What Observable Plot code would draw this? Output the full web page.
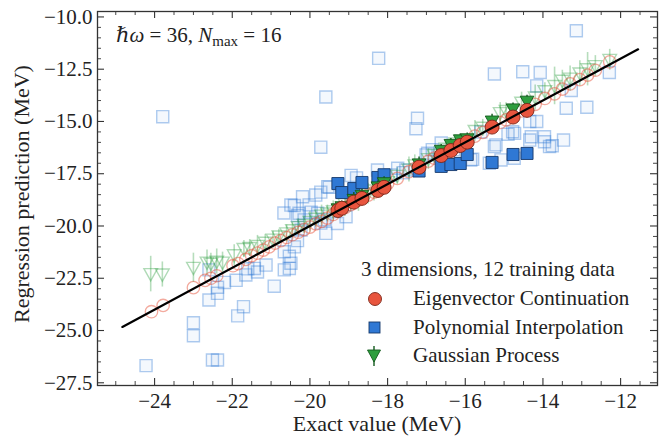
<!DOCTYPE html>
<html><head><meta charset="utf-8">
<script src="https://cdn.jsdelivr.net/npm/d3@7"></script>
<script src="https://cdn.jsdelivr.net/npm/@observablehq/plot@0.6"></script>
<style>body{margin:0;background:#fff}</style>
</head><body><div id="chart"></div>
<script>
// ---- tick labels ----
const xTicks = [-24, -22, -20, -18, -16, -14, -12];
const yTicks = [-27.5, -25, -22.5, -20, -17.5, -15, -12.5, -10];
const xMinor = d3.range(-25, -11, 0.5).filter(v => !xTicks.includes(v));
const yMinor = d3.range(-27.5, -9.6, 0.5).filter(v => !yTicks.includes(v));

// ---- diagonal reference line ----
const diagX = [-24.83, -11.55];

// ---- highlighted (filled) points ----
const trainExact = [-19.28, -19.18, -18.87, -18.66, -18.25, -18.09, -17.19, -16.62, -16.37, -16.13, -15.95, -15.31, -14.77, -14.41];
const ecTrainPred = [-19.26, -19.15, -18.86, -18.68, -18.30, -18.15, -17.19, -16.63, -16.39, -16.15, -15.99, -15.27, -14.79, -14.47];
const piTrainPred = [-17.97, -18.40, -18.21, -17.92, -17.68, -17.55, -17.37, -17.15, -17.06, -17.01, -16.58, -16.96, -16.58, -16.53];
const gpTrainPred = [-19.20, -19.10, -18.75, -18.55, -18.15, -17.95, -17.05, -16.40, -16.12, -15.90, -15.85, -15.00, -14.42, -14.05];
const gpTrainErr  = [0.30, 0.30, 0.35, 0.30, 0.30, 0.30, 0.35, 0.30, 0.30, 0.30, 0.30, 0.35, 0.30, 0.30];

// ---- test (faint) points ----
const ecTestExact = [-24.08, -23.78, -23.00, -22.70, -22.55, -22.40, -21.98, -21.85, -21.65, -21.50, -21.35, -21.20, -21.05, -20.90, -20.75, -20.60, -20.45, -20.30, -20.15, -20.00, -19.85, -19.70, -19.55, -19.40, -19.10, -18.95, -18.75, -18.50, -18.35, -18.00, -17.75, -17.45, -17.30, -16.95, -16.80, -16.50, -16.25, -15.75, -15.55, -15.10, -14.95, -14.55, -14.20, -13.95, -13.70, -13.50, -13.30, -13.05, -12.85, -12.65, -12.28];
const ecTestPred  = [-24.10, -23.80, -22.95, -22.60, -22.50, -22.38, -21.90, -21.80, -21.60, -21.42, -21.30, -21.15, -21.00, -20.82, -20.70, -20.55, -20.42, -20.30, -20.17, -20.05, -19.90, -19.78, -19.62, -19.45, -19.12, -18.98, -18.75, -18.52, -18.38, -17.98, -17.72, -17.40, -17.25, -16.90, -16.75, -16.45, -16.22, -15.70, -15.52, -15.05, -14.92, -14.50, -14.18, -13.90, -13.68, -13.45, -13.20, -13.00, -12.78, -12.55, -12.15];

const piTestExact = [-24.22, -23.79, -23.00, -23.00, -22.51, -22.38, -22.60, -22.38, -21.86, -21.71, -20.92, -22.60, -22.38, -21.65, -21.60, -21.43, -21.35, -21.13, -20.66, -20.53, -20.49, -20.66, -20.53, -20.40, -20.32, -20.23, -20.15, -20.28, -20.32, -19.97, -19.80, -19.63, -19.72, -19.59, -19.29, -19.07, -20.02, -20.19, -19.85, -19.54, -20.40, -19.72, -19.50, -20.49, -20.67, -18.94, -18.80, -18.26, -17.74, -17.92, -17.53, -17.01, -16.97, -16.62, -19.72, -19.59, -18.23, -17.23, -17.27, -15.81, -15.86, -15.38, -15.25, -15.21, -15.08, -14.74, -14.90, -14.73, -14.78, -14.34, -14.30, -13.96, -13.96, -13.83, -13.76, -13.47, -14.34, -14.16, -14.16, -13.27, -13.40, -12.87, -15.25, -14.52, -14.07, -12.29, -13.14, -17.60, -16.85, -16.30, -15.60, -21.90, -22.20];
const piTestPred  = [-26.68, -14.77, -24.63, -25.25, -26.41, -26.41, -23.54, -23.22, -24.30, -23.86, -22.88, -22.10, -22.93, -22.34, -22.05, -22.03, -22.20, -21.87, -22.10, -22.03, -21.78, -21.23, -21.45, -21.00, -20.70, -20.19, -19.71, -19.39, -19.50, -19.34, -19.39, -19.70, -19.86, -20.35, -19.88, -19.56, -18.99, -18.60, -18.52, -18.12, -19.02, -18.38, -18.15, -19.00, -19.38, -17.58, -17.70, -17.32, -17.24, -17.56, -17.32, -16.60, -16.52, -16.03, -16.23, -13.83, -11.98, -14.85, -15.35, -16.81, -16.84, -17.00, -16.20, -16.12, -16.84, -16.76, -15.61, -15.57, -15.49, -15.89, -15.73, -15.73, -15.97, -16.20, -16.16, -15.89, -15.00, -15.00, -13.30, -13.52, -14.37, -14.32, -12.73, -12.62, -12.66, -12.66, -10.66, -17.45, -16.35, -16.35, -15.50, -22.60, -22.70];

const gpTestExact = [-24.10, -23.80, -23.00, -22.65, -22.55, -22.40, -22.25, -21.95, -21.70, -21.55, -21.35, -21.15, -20.95, -20.80, -20.60, -20.45, -20.30, -20.15, -20.00, -19.85, -19.70, -19.55, -19.40, -19.10, -18.95, -18.75, -18.50, -18.35, -18.00, -17.75, -17.45, -17.30, -16.95, -16.80, -16.50, -16.25, -15.75, -15.55, -15.10, -14.95, -14.55, -14.20, -13.95, -13.70, -13.50, -13.30, -13.05, -12.85, -12.65, -12.28];
const gpTestPred  = [-22.30, -22.32, -22.00, -21.75, -21.80, -21.70, -21.75, -21.40, -21.10, -21.05, -20.95, -20.80, -20.65, -20.50, -20.35, -20.20, -20.05, -19.95, -19.80, -19.65, -19.50, -19.40, -19.30, -18.95, -18.85, -18.70, -18.45, -18.30, -17.90, -17.60, -17.30, -17.10, -16.80, -16.60, -16.30, -16.05, -15.45, -15.30, -14.60, -14.50, -14.10, -13.85, -13.55, -13.30, -13.05, -12.95, -12.70, -12.50, -12.35, -12.05];
const gpTestErr   = [0.85, 0.60, 0.70, 0.60, 0.50, 0.60, 0.50, 0.50, 0.40, 0.40, 0.50, 0.40, 0.40, 0.35, 0.40, 0.35, 0.40, 0.40, 0.50, 0.40, 0.50, 0.40, 0.50, 0.60, 0.50, 0.60, 0.50, 0.50, 0.50, 0.40, 0.60, 0.50, 0.50, 0.40, 0.40, 0.40, 0.50, 0.40, 0.50, 0.40, 0.50, 0.60, 0.40, 0.90, 0.50, 0.60, 0.60, 0.80, 0.50, 0.50];

// ---- colours ----
const RED = "#e8553e", RED_EDGE = "#7a2618";
const BLUE = "#2f78d4", BLUE_EDGE = "#16396b";
const GREEN = "#2e9e3e", GREEN_EDGE = "#125a1c";
const AXIS = "#333";
const FONT = "'Liberation Serif', 'DejaVu Serif', serif";

// ---- tables ----
const pairs = (xs, ys, es) => xs.map((x, i) => ({x, y: ys[i], e: es ? es[i] : 0}));
const ecTrain = pairs(trainExact, ecTrainPred);
const piTrain = pairs(trainExact, piTrainPred);
const gpTrain = pairs(trainExact, gpTrainPred, gpTrainErr);
const ecTest = pairs(ecTestExact, ecTestPred);
const piTest = pairs(piTestExact, piTestPred);
const gpTest = pairs(gpTestExact, gpTestPred, gpTestErr);

const triDown = {
  draw(context, size) {
    const r = Math.sqrt(size / Math.PI);
    context.moveTo(-r, -r * 0.8);
    context.lineTo(r, -r * 0.8);
    context.lineTo(0, r);
    context.closePath();
  }
};

const W = 661, H = 438, mL = 97, mR = 4, mT = 11, mB = 53;
const fW = W - mL - mR, fH = H - mT - mB;

const plot = Plot.plot({
  width: W, height: H,
  marginLeft: mL, marginRight: mR, marginTop: mT, marginBottom: mB,
  x: {domain: [-25.47, -11.05]},
  y: {domain: [-27.63, -9.74]},
  style: {fontFamily: FONT, fontSize: "21px", background: "white", color: "#222", overflow: "visible"},
  marks: [
    // faint test predictions
    Plot.ruleX(gpTest, {x: "x", y1: d => d.y - d.e, y2: d => d.y + d.e, stroke: GREEN, strokeOpacity: 0.35, strokeWidth: 1.6}),
    Plot.dot(piTest, {x: "x", y: "y", symbol: "square", r: 6.8, stroke: BLUE, strokeOpacity: 0.38, strokeWidth: 1.4, fill: BLUE, fillOpacity: 0.05}),
    Plot.dot(gpTest, {x: "x", y: "y", symbol: triDown, r: 6.8, stroke: GREEN, strokeOpacity: 0.38, strokeWidth: 1.4, fill: "none"}),
    Plot.dot(ecTest, {x: "x", y: "y", r: 6.2, stroke: RED, strokeOpacity: 0.5, strokeWidth: 1.3, fill: "none"}),
    // highlighted predictions
    Plot.dot(piTrain, {x: "x", y: "y", symbol: "square", r: 6.8, fill: BLUE, stroke: BLUE_EDGE, strokeWidth: 0.9}),
    Plot.ruleX(gpTrain, {x: "x", y1: d => d.y - d.e, y2: d => d.y + d.e, stroke: GREEN_EDGE, strokeWidth: 1.4}),
    Plot.dot(gpTrain, {x: "x", y: "y", symbol: triDown, r: 6.8, fill: GREEN, stroke: GREEN_EDGE, strokeWidth: 0.9}),
    Plot.dot(ecTrain, {x: "x", y: "y", r: 7, fill: RED, stroke: RED_EDGE, strokeWidth: 0.9}),
    // y = x
    Plot.line(diagX, {x: d => d, y: d => d, stroke: "black", strokeWidth: 2.2}),
    // inward ticks
    Plot.tickX(xTicks, {x: d => d, insetTop: fH - 7, stroke: AXIS, strokeWidth: 1.1}),
    Plot.tickX(xTicks, {x: d => d, insetBottom: fH - 7, stroke: AXIS, strokeWidth: 1.1}),
    Plot.tickX(xMinor, {x: d => d, insetTop: fH - 4, stroke: AXIS, strokeWidth: 0.9}),
    Plot.tickX(xMinor, {x: d => d, insetBottom: fH - 4, stroke: AXIS, strokeWidth: 0.9}),
    Plot.tickY(yTicks, {y: d => d, insetRight: fW - 7, stroke: AXIS, strokeWidth: 1.1}),
    Plot.tickY(yTicks, {y: d => d, insetLeft: fW - 7, stroke: AXIS, strokeWidth: 1.1}),
    Plot.tickY(yMinor, {y: d => d, insetRight: fW - 4, stroke: AXIS, strokeWidth: 0.9}),
    Plot.tickY(yMinor, {y: d => d, insetLeft: fW - 4, stroke: AXIS, strokeWidth: 0.9}),
    Plot.frame({stroke: AXIS, strokeWidth: 1.3}),
    Plot.axisX({ticks: xTicks, tickSize: 0, tickPadding: 8, label: null, fontSize: 21, fill: "#222"}),
    Plot.axisY({ticks: yTicks, tickSize: 0, tickPadding: 5, label: null, fontSize: 21, fill: "#222", tickFormat: d3.format(".1f")})
  ]
});

document.getElementById("chart").appendChild(plot);

// ---- titles, annotation, legend ----
const svg = d3.select(plot);
const g = svg.append("g").attr("font-family", FONT).attr("fill", "#222").attr("text-anchor", "start");

g.append("text").attr("x", 377).attr("y", 431).attr("text-anchor", "middle").attr("font-size", 22)
  .text("Exact value (MeV)");
g.append("text").attr("transform", "translate(29,194) rotate(-90)").attr("text-anchor", "middle").attr("font-size", 22)
  .text("Regression prediction (MeV)");

const ann = g.append("text").attr("x", 116).attr("y", 42).attr("font-size", 21).attr("text-anchor", "start");
ann.append("tspan").attr("font-style", "italic").text("ℏω");
ann.append("tspan").text(" = 36, ");
ann.append("tspan").attr("font-style", "italic").text("N");
ann.append("tspan").attr("font-size", 15).attr("dy", 4).text("max");
ann.append("tspan").attr("dy", -4).text(" = 16");

g.append("text").attr("x", 361).attr("y", 276).attr("font-size", 21).attr("text-anchor", "start").text("3 dimensions, 12 training data");
const legendRows = [
  {label: "Eigenvector Continuation", y: 299},
  {label: "Polynomial Interpolation", y: 328},
  {label: "Gaussian Process", y: 356}
];
legendRows.forEach(r => g.append("text").attr("x", 413).attr("y", r.y + 6).attr("font-size", 21).attr("text-anchor", "start").text(r.label));
g.append("circle").attr("cx", 375).attr("cy", 299).attr("r", 6.5).attr("fill", RED).attr("stroke", RED_EDGE).attr("stroke-width", 0.9);
g.append("rect").attr("x", 369).attr("y", 322).attr("width", 11).attr("height", 11).attr("fill", BLUE).attr("stroke", BLUE_EDGE).attr("stroke-width", 0.9);
g.append("line").attr("x1", 374).attr("x2", 374).attr("y1", 346).attr("y2", 366).attr("stroke", GREEN_EDGE).attr("stroke-width", 1.4);
g.append("path").attr("d", "M367.5,350 L380.5,350 L374,362 Z").attr("fill", GREEN).attr("stroke", GREEN_EDGE).attr("stroke-width", 0.9);
</script>
</body></html>
